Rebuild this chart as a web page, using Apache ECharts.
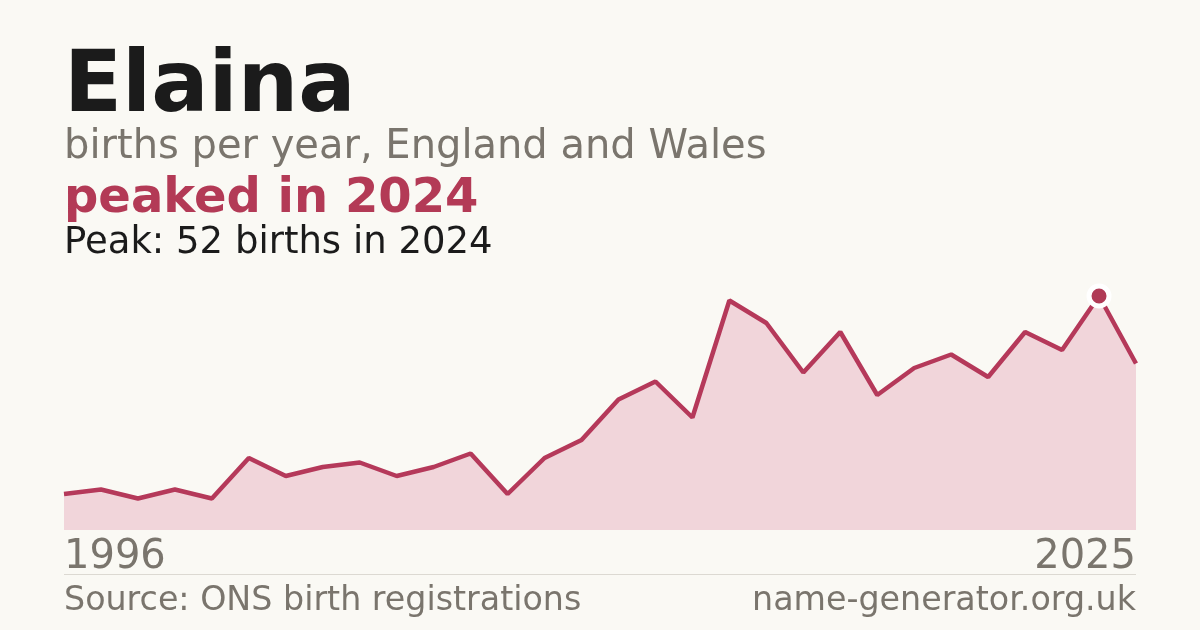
<!DOCTYPE html>
<html>
<head>
<meta charset="utf-8">
<script src="https://cdn.jsdelivr.net/npm/echarts@6/dist/echarts.min.js"></script>
<style>
  html, body { margin: 0; padding: 0; background: #faf9f4; }
  #chart { width: 1200px; height: 630px; }
</style>
</head>
<body>
<div id="chart"></div>
<script>
const years = [];
for (let y = 1996; y <= 2025; y++) years.push(String(y));
const births = [8, 9, 7, 9, 7, 16, 12, 14, 15, 12, 14, 17, 8, 16, 20, 29, 33, 25, 51, 46, 35, 44, 30, 36, 39, 34, 44, 40, 52, 37];
const peakYear = '2024';

const peakIdx = years.indexOf(peakYear);
const font = 'DejaVu Sans';
const chart = echarts.init(document.getElementById('chart'));

chart.setOption({
  backgroundColor: '#faf9f4',
  animation: false,
  grid: { left: 64, right: 64, top: 260, bottom: 100 },
  xAxis: {
    type: 'category',
    data: years,
    boundaryGap: false,
    axisLine: { show: false },
    axisTick: { show: false },
    axisLabel: {
      interval: (i) => i === 0 || i === years.length - 1,
      alignMinLabel: 'left',
      alignMaxLabel: 'right',
      color: '#7a756d',
      fontFamily: font,
      fontSize: 40,
      margin: 8
    }
  },
  yAxis: {
    type: 'value',
    min: 0,
    max: 60,
    show: false,
    splitLine: { show: false }
  },
  series: [
    {
      type: 'line',
      data: births,
      showSymbol: false,
      lineStyle: { color: '#b5395a', width: 4.5 },
      areaStyle: { color: '#f1d5da', opacity: 1 },
      z: 2
    },
    {
      type: 'scatter',
      data: [[peakIdx, births[peakIdx]]],
      symbolSize: 20,
      itemStyle: { color: '#b03a56', borderColor: '#ffffff', borderWidth: 5, opacity: 1 },
      z: 3
    }
  ],
  graphic: [
    { type: 'text', left: 64, top: 46, style: { text: 'Elaina', font: `bold 85px "${font}"`, fill: '#1b1b1b' } },
    { type: 'text', left: 64, top: 128, style: { text: 'births per year, England and Wales', font: `40px "${font}"`, fill: '#7a756d' } },
    { type: 'text', left: 64, top: 176, style: { text: 'peaked in 2024', font: `bold 48px "${font}"`, fill: '#b33a56' } },
    { type: 'text', left: 64, top: 225, style: { text: 'Peak: 52 births in 2024', font: `37px "${font}"`, fill: '#1b1b1b' } },
    { type: 'line', shape: { x1: 64, y1: 574.5, x2: 1136, y2: 574.5 }, style: { stroke: '#dcd9d2', lineWidth: 1 } },
    { type: 'text', left: 64, top: 585, style: { text: 'Source: ONS birth registrations', font: `33.3px "${font}"`, fill: '#7a756d' } },
    { type: 'text', right: 64, top: 585, style: { text: 'name-generator.org.uk', font: `33.3px "${font}"`, fill: '#7a756d' } }
  ]
});
</script>
</body>
</html>
